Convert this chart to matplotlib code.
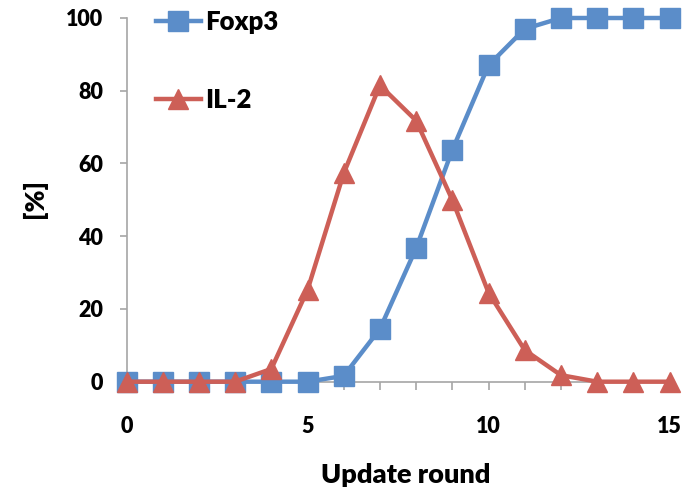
import matplotlib
matplotlib.use("Agg")
import matplotlib.pyplot as plt
from matplotlib.ticker import MultipleLocator

plt.rcParams['font.family'] = ['Lato', 'DejaVu Sans']
plt.rcParams['font.weight'] = 'heavy'

rounds = list(range(16))
foxp3 = [0, 0, 0, 0, 0, 0, 1.6, 14.5, 36.7, 63.7, 87, 97, 100, 100, 100, 100]
il2 = [0, 0, 0, 0, 3.5, 25.2, 57.3, 81.5, 71.8, 50, 24.5, 8.7, 1.8, 0, 0, 0]
series_names = ['Foxp3', 'IL-2']
x_ticks = [0, 5, 10, 15]
y_ticks = [0, 20, 40, 60, 80, 100]

blue = '#5B8DC9'
red = '#CD5F57'
axis_grey = '#A6A6A6'
W = 'heavy'

fig = plt.figure(figsize=(7, 4.92), dpi=100)
ax_l, ax_r, ax_b, ax_t = 126.5, 669.5, 381.7, 18
ax = fig.add_axes([ax_l / 700, 1 - ax_b / 492, (ax_r - ax_l) / 700, (ax_b - ax_t) / 492])

ax.plot(rounds, foxp3, color=blue, lw=3.2, marker='s', ms=14,
        mfc=blue, mec=blue, label=series_names[0], clip_on=False, zorder=3)
ax.plot(rounds, il2, color=red, lw=3.2, marker='^', ms=15,
        mfc=red, mec=red, label=series_names[1], clip_on=False, zorder=4)

ax.set_xlim(0, 15)
ax.set_ylim(0, 100)
ax.set_xticks(x_ticks)
ax.xaxis.set_minor_locator(MultipleLocator(1))
ax.set_yticks(y_ticks)

for side in ('top', 'right'):
    ax.spines[side].set_visible(False)
for side in ('left', 'bottom'):
    ax.spines[side].set_color(axis_grey)
    ax.spines[side].set_linewidth(1.2)

ax.tick_params(axis='y', which='major', direction='out', length=5, width=1.2,
               color=axis_grey, pad=12, labelsize=15.5)
ax.tick_params(axis='x', which='major', direction='out', length=5.5, width=1.2,
               color=axis_grey, pad=19, labelsize=15.5)
ax.tick_params(axis='x', which='minor', direction='out', length=5.5, width=1.2,
               color=axis_grey)
for lbl in ax.get_xticklabels() + ax.get_yticklabels():
    lbl.set_fontweight(W)

ax.set_xlabel('Update round', fontsize=19.5, fontweight=W, va='center')
ax.xaxis.set_label_coords((406 - ax_l) / (ax_r - ax_l), -(475 - ax_b) / (ax_b - ax_t))
ax.set_ylabel('[%]', fontsize=19, fontweight=W, va='center')
ax.yaxis.set_label_coords(-(ax_l - 34.5) / (ax_r - ax_l), (ax_b - 198.5) / (ax_b - ax_t))

leg = ax.legend(loc='upper left', bbox_to_anchor=(156 / 700, 1 - 10 / 492),
                bbox_transform=fig.transFigure, frameon=False,
                prop={'family': 'Lato', 'size': 18.5, 'weight': W}, handlelength=1.75,
                handletextpad=0.15, labelspacing=2.1, borderpad=0,
                borderaxespad=0)

fig.savefig('out.png', dpi=100)
